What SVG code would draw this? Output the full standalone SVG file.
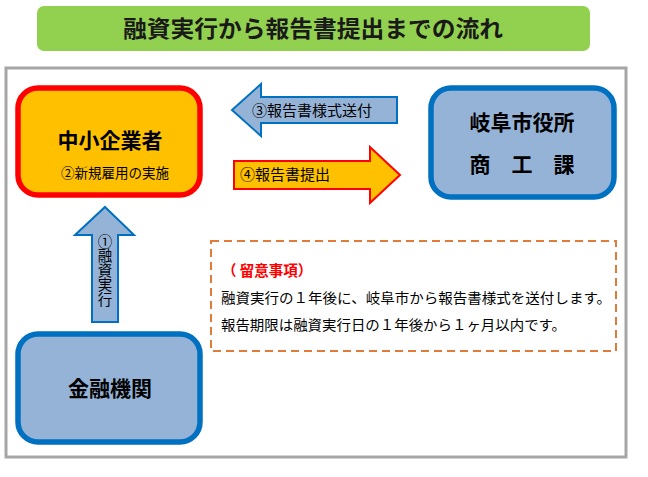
<svg xmlns="http://www.w3.org/2000/svg" width="648" height="477" viewBox="0 0 648 477">
<defs>
<style>
.jp{font-family:"Noto Sans CJK JP","Noto Sans CJK SC",sans-serif;}
.b{font-weight:bold;}
.blue{fill:#95B3D7;stroke:#0070C0;}
.org{fill:#FFC000;stroke:#FF0000;}
.vt{font-size:14.5px;fill:#000;writing-mode:vertical-rl;text-orientation:upright;}
</style>
</defs>
<rect x="0" y="0" width="648" height="477" fill="#FFFFFF"/>
<g id="title">
<rect x="37" y="6" width="553" height="45" rx="7" fill="#92D050"/>
<text class="jp b" x="123" y="37" font-size="23" fill="#1a1a1a" textLength="380" lengthAdjust="spacingAndGlyphs">融資実行から報告書提出までの流れ</text>
</g>
<g id="frame">
<rect x="6" y="68" width="620" height="389" fill="#FFFFFF" stroke="#A6A6A6" stroke-width="3"/>
</g>
<g id="connectors">
<g id="arrow3">
<path class="blue" stroke-width="2" d="M232,110 L261,84 L261,97 L397,97 L397,123 L261,123 L261,136 Z"/>
<text class="jp" x="252" y="116" font-size="14.5" fill="#000" textLength="120" lengthAdjust="spacingAndGlyphs">③報告書様式送付</text>
</g>
<g id="arrow4">
<path class="org" stroke-width="2" d="M400,175 L370,147 L370,161 L234,161 L234,189 L370,189 L370,203 Z"/>
<text class="jp" x="240" y="180" font-size="14.5" fill="#000" textLength="90" lengthAdjust="spacingAndGlyphs">④報告書提出</text>
</g>
<g id="arrow1">
<path class="blue" stroke-width="2" d="M105,207 L134,235 L118,235 L118,322 L92,322 L92,235 L75,235 Z"/>
<text class="jp vt" x="105" y="234">①融資実行</text>
</g>
</g>
<g id="chusho">
<rect class="org" x="18" y="88" width="182" height="107" rx="20" stroke-width="5.5"/>
<text class="jp b" x="110" y="148" font-size="21" text-anchor="middle" fill="#000">中小企業者</text>
<text class="jp" x="115" y="178" font-size="13.5" text-anchor="middle" fill="#000">②新規雇用の実施</text>
</g>
<g id="gifu">
<rect class="blue" x="431" y="88" width="183" height="109" rx="20" stroke-width="5.5"/>
<text class="jp b" x="522" y="130" font-size="21" text-anchor="middle" fill="#000">岐阜市役所</text>
<text class="jp b" x="522" y="172" font-size="21" text-anchor="middle" fill="#000" xml:space="preserve">商　工　課</text>
</g>
<g id="kinyu">
<rect class="blue" x="18" y="334" width="182" height="108" rx="20" stroke-width="5.5"/>
<text class="jp b" x="110" y="396" font-size="21" text-anchor="middle" fill="#000">金融機関</text>
</g>
<g id="note">
<rect x="211" y="241" width="405" height="110" fill="none" stroke="#E07B39" stroke-width="2" stroke-dasharray="8,5"/>
<text class="jp b" x="222" y="276" font-size="14.5" fill="#FF0000" xml:space="preserve">（ 留意事項）</text>
<text class="jp" x="221" y="303" font-size="14" fill="#000" textLength="390" lengthAdjust="spacingAndGlyphs">融資実行の１年後に、岐阜市から報告書様式を送付します。</text>
<text class="jp" x="221" y="330" font-size="14" fill="#000" textLength="345" lengthAdjust="spacingAndGlyphs">報告期限は融資実行日の１年後から１ヶ月以内です。</text>
</g>
</svg>
